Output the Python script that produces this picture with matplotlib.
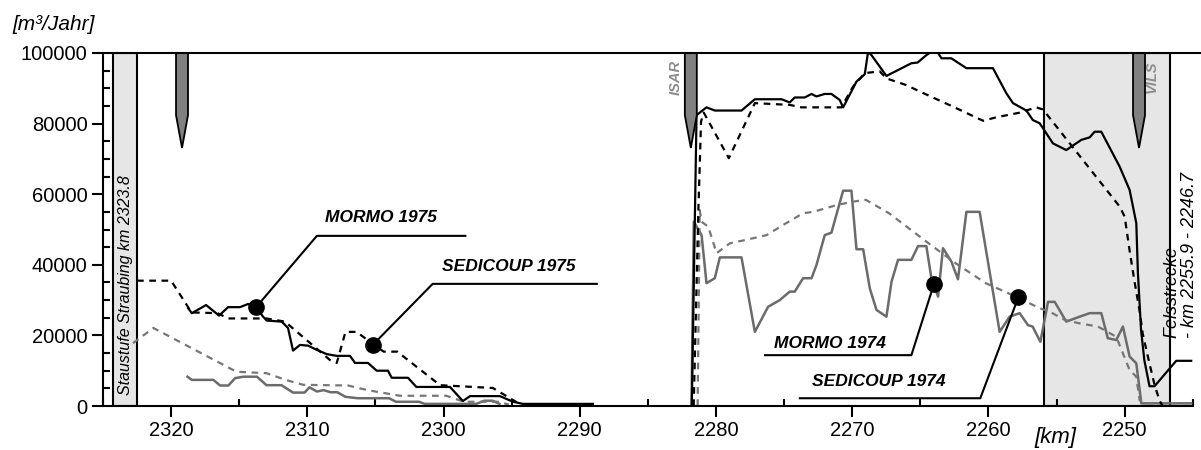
import numpy as np
import matplotlib
matplotlib.use('Agg')
import matplotlib.pyplot as plt
from matplotlib.ticker import MultipleLocator

plt.rcParams['font.family'] = ['Liberation Sans', 'DejaVu Sans']

# --- 1975 section (km 2323 - 2289) ---
mormo75_km = [2318.75, 2318.48, 2317.43, 2316.48, 2315.82, 2314.94, 2314.35, 2313.76, 2313.25,
              2312.98, 2311.88, 2311.42, 2311.05, 2310.54, 2309.95, 2309.31, 2308.58, 2307.84,
              2306.87, 2306.5, 2305.55, 2304.91, 2304.08, 2303.81, 2302.61, 2302.0, 2299.53,
              2298.58, 2298.06, 2295.86, 2294.91, 2294.17, 2289.04]
mormo75_val = [27700, 26300, 28600, 25600, 28000, 28000, 28900, 28000, 25300,
               24200, 23900, 22100, 15700, 17300, 17100, 15900, 14700, 14200,
               14200, 12200, 12200, 10000, 10000, 8000, 8000, 5400, 5400,
               1400, 2800, 2800, 1200, 600, 600]

sedi75_km = [2322.5, 2320.0, 2318.5, 2316.6, 2315.8, 2313.0, 2311.64, 2308.33, 2307.84,
             2307.2, 2306.4, 2305.9, 2304.4, 2303.4, 2300.26, 2296.38, 2294.17]
sedi75_val = [35500, 35500, 26500, 26300, 24800, 24800, 23900, 13000, 12200,
              21000, 21000, 19600, 15400, 15400, 5900, 5100, 0]

mormo75g_km = [2318.8, 2318.48, 2316.9, 2316.4, 2315.8, 2315.3, 2314.7, 2313.7, 2313.0,
               2311.9, 2311.05, 2310.2, 2309.85, 2309.3, 2308.8, 2308.3, 2307.8, 2307.2,
               2306.3, 2304.0, 2303.5, 2301.8, 2301.4, 2297.6, 2297.0, 2296.4, 2295.9]
mormo75g_val = [8300, 7400, 7400, 5800, 5800, 7900, 8300, 8300, 5900,
                5900, 3800, 3800, 5300, 4100, 4500, 3900, 3900, 2600,
                2200, 2200, 1200, 1200, 600, 600, 1500, 1500, 600]

sedi75g_km = [2322.8, 2321.3, 2315.2, 2313.0, 2311.6, 2310.3, 2307.0, 2305.6, 2303.2,
              2299.8, 2298.5, 2296.0, 2295.2]
sedi75g_val = [17800, 22100, 9700, 9300, 7400, 6000, 5800, 4500, 2900,
               2900, 1200, 1200, 400]

# --- 1974 section (km 2282 - 2245) ---
mormo74_km = [2281.78, 2281.43, 2280.7, 2280.09, 2278.13, 2277.15, 2275.19, 2274.59, 2274.22,
              2273.49, 2272.99, 2272.63, 2272.02, 2271.53, 2270.92, 2270.67, 2269.69, 2269.08,
              2268.84, 2268.59, 2267.49, 2265.66, 2265.2, 2264.56, 2264.24, 2263.7, 2263.45,
              2262.73, 2261.62, 2259.67, 2258.69, 2258.2, 2257.22, 2256.74, 2256.24, 2255.27,
              2254.29, 2253.18, 2252.57, 2252.21, 2251.72, 2250.37, 2249.64, 2249.15, 2249.03,
              2248.8, 2248.56, 2248.18, 2247.81, 2246.22, 2245.12]
mormo74_val = [0, 82400, 84600, 83700, 83700, 86900, 86900, 86000, 87400,
               87400, 88400, 87700, 88400, 88400, 86700, 84600, 91900, 94000,
               100300, 99400, 93500, 97100, 97300, 99400, 100200, 100000, 98500,
               98500, 95700, 95700, 88600, 85800, 83700, 81000, 80100, 74400,
               72500, 75400, 76100, 77700, 77700, 67800, 61200, 51800, 37600,
               21500, 13000, 5600, 5600, 12800, 12800]

sedi74_km = [2281.64, 2281.3, 2281.1, 2280.9, 2279.06, 2277.15, 2274.59, 2273.73, 2270.8,
             2269.94, 2269.08, 2267.98, 2267.49, 2266.02, 2265.05, 2262.6, 2260.4, 2259.42,
             2257.71, 2256.49, 2256.0, 2250.37, 2250.0, 2249.64, 2249.27, 2248.91, 2248.68,
             2248.18, 2247.81, 2247.44, 2247.22]
sedi74_val = [0, 55000, 80600, 83100, 70200, 85800, 85300, 84600, 84600,
              90500, 94300, 94800, 92800, 90900, 89100, 84800, 80800, 81800,
              83100, 84600, 84000, 56500, 53600, 44000, 35000, 27000, 20500,
              12000, 6000, 1500, 0]

mormo74g_km = [2281.8, 2281.63, 2281.06, 2280.7, 2280.09, 2279.72, 2278.13, 2277.15, 2276.18,
               2275.32, 2274.59, 2274.22, 2273.61, 2272.99, 2272.63, 2272.02, 2271.53, 2270.67,
               2270.06, 2269.69, 2269.2, 2268.71, 2268.22, 2267.49, 2267.12, 2266.64, 2265.66,
               2265.17, 2264.56, 2264.19, 2263.7, 2263.34, 2262.72, 2262.24, 2261.62, 2260.65,
               2259.18, 2258.45, 2257.71, 2257.1, 2256.76, 2256.19, 2255.63, 2255.14, 2254.29,
               2253.31, 2252.57, 2251.72, 2251.24, 2250.62, 2250.13, 2249.64, 2249.15, 2248.78,
               2245.12]
mormo74g_val = [0, 52200, 48400, 34800, 36200, 42100, 42100, 21000, 28100,
                30000, 32400, 32400, 36200, 36200, 39900, 48400, 49100, 61000,
                61000, 44400, 44400, 33300, 27200, 25300, 35200, 41400, 41400,
                45300, 45300, 36200, 31000, 44700, 40900, 35900, 55000, 55000,
                21000, 25300, 26300, 22900, 22500, 18200, 29500, 29500, 23900,
                25300, 26300, 26300, 19200, 18700, 22500, 14000, 12100, 750,
                750]

sedi74g_km = [2281.35, 2281.2, 2281.06, 2280.57, 2279.96, 2278.98, 2277.88, 2276.29, 2275.07,
              2273.61, 2272.87, 2271.16, 2269.94, 2269.0, 2267.3, 2264.4, 2262.4, 2260.2,
              2258.0, 2256.24, 2255.5, 2254.4, 2253.3, 2251.96, 2250.62, 2249.64, 2249.15,
              2248.91, 2248.6, 2245.1]
sedi74g_val = [0, 55500, 52200, 50800, 43300, 46100, 47000, 48400, 51300,
               54600, 55000, 56900, 57900, 58400, 54600, 46100, 40400, 34800,
               31000, 27700, 26700, 24400, 23400, 22500, 19600, 10200, 8300,
               1700, 800, 800]

# shaded reaches and tributaries
staustufe = (2324.26, 2322.49)
felsstrecke = (2255.9, 2246.7)
tributary_km = [2319.2, 2281.85, 2248.95]
tributary_names = ['', 'ISAR', 'VILS']

# annotations: (label, dot km, dot val, knee km, knee val, end km, text km, text val)
annotations = [
    ('MORMO 1975', 2313.76, 28000, 2309.3, 48200, 2298.4, 2304.6, 53300),
    ('SEDICOUP 1975', 2305.2, 17300, 2300.8, 34600, 2288.75, 2295.2, 39400),
    ('MORMO 1974', 2264.0, 34600, 2265.66, 14400, 2276.4, 2271.65, 17800),
    ('SEDICOUP 1974', 2257.8, 30900, 2260.6, 2200, 2273.85, 2268.05, 6900),
]

fig = plt.figure(figsize=(12.01, 4.5), dpi=100)
ax = fig.add_axes([103 / 1201, 1 - 406 / 450, 1 - 103 / 1201, 353 / 450])

ax.set_xlim(2325, 2244.4)
ax.set_ylim(0, 100000)

# shaded boxes
for a, b in [staustufe, felsstrecke]:
    ax.fill([a, b, b, a], [0, 0, 100000, 100000], facecolor='#e6e6e6',
            edgecolor='black', lw=1.5, zorder=1)

black = 'black'
gray = '#6b6b6b'
gray2 = '#767676'
ax.plot(mormo75_km, mormo75_val, color=black, lw=1.6, zorder=3)
ax.plot(sedi75_km, sedi75_val, color=black, lw=1.6, ls=(0, (3, 2.5)), zorder=3)
ax.plot(mormo75g_km, mormo75g_val, color=gray, lw=1.8, zorder=2)
ax.plot(sedi75g_km, sedi75g_val, color=gray2, lw=1.6, ls=(0, (3, 2.5)), zorder=2)
ax.plot(mormo74_km, mormo74_val, color=black, lw=1.6, zorder=3)
ax.plot(sedi74_km, sedi74_val, color=black, lw=1.6, ls=(0, (3, 2.5)), zorder=3)
ax.plot(mormo74g_km, mormo74g_val, color=gray, lw=1.8, zorder=2)
ax.plot(sedi74g_km, sedi74g_val, color=gray2, lw=1.6, ls=(0, (3, 2.5)), zorder=2)

# tributary markers
half_w = 0.44
for km, name in zip(tributary_km, tributary_names):
    xs = [km - half_w, km + half_w, km + half_w, km, km - half_w]
    ys = [100000, 100000, 82400, 73100, 82400]
    ax.fill(xs, ys, facecolor='#808080', edgecolor='black', lw=1.3, zorder=5)
if True:
    ax.text(2282.95, 98000, 'ISAR', rotation=90, ha='center', va='top', color='#8c8c8c',
            fontsize=10.5, fontweight='bold', style='italic', zorder=6)
    ax.text(2248.0, 98000, 'VILS', rotation=90, ha='center', va='top', color='#8c8c8c',
            fontsize=10.5, fontweight='bold', style='italic', zorder=6)

ax.text(2323.37, 3100, 'Staustufe Straubing km 2323.8', rotation=90, ha='center',
        va='bottom', fontsize=11.5, style='italic', zorder=6)
ax.text(2245.9, 19300, 'Felsstrecke\n- km 2255.9 - 2246.7', rotation=90, ha='center',
        va='bottom', multialignment='left', fontsize=13, style='italic', linespacing=1.0,
        zorder=6)

for label, dk, dv, kk, kv, ek, tk, tv in annotations:
    ax.plot([dk, kk, ek], [dv, kv, kv], color='black', lw=1.5, zorder=7)
    ax.plot([dk], [dv], 'o', color='black', markersize=11, zorder=8)
    ax.text(tk, tv, label, ha='center', va='center', fontsize=12.5,
            fontweight='bold', style='italic', zorder=8)

# axes styling
ax.spines['right'].set_visible(False)
ax.spines['bottom'].set_bounds(2325, 2245)
for s in ['top', 'left', 'bottom']:
    ax.spines[s].set_linewidth(1.5)
    ax.spines[s].set_zorder(9)

ax.xaxis.set_major_locator(MultipleLocator(10))
ax.xaxis.set_minor_locator(MultipleLocator(5))
ax.yaxis.set_major_locator(MultipleLocator(20000))
ax.yaxis.set_minor_locator(MultipleLocator(5000))
ax.ticklabel_format(axis='y', style='plain')
ax.tick_params(axis='both', which='major', direction='out', length=8, width=1.5,
               labelsize=14.5, pad=3)
ax.tick_params(axis='both', which='minor', direction='in', length=5, width=1.5)
ax.set_xticks([2320, 2310, 2300, 2290, 2280, 2270, 2260, 2250])

fig.text(12 / 1201, 1 - 25 / 450, '[m³/Jahr]', ha='left', va='center',
         fontsize=15, style='italic')
fig.text(1055 / 1201, 1 - 438 / 450, '[km]', ha='center', va='center',
         fontsize=16, style='italic')

fig.savefig('out.png', dpi=100)
